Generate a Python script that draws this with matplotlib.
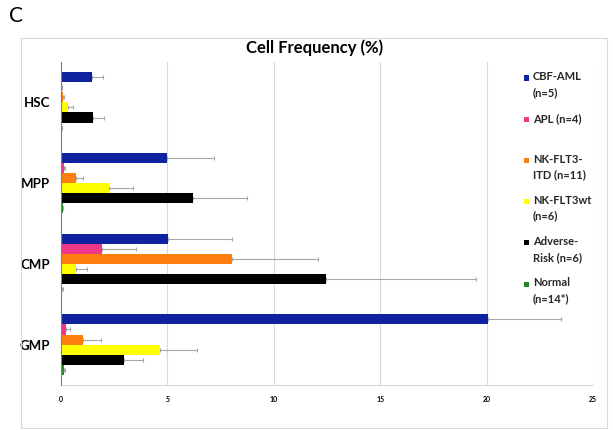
import matplotlib
matplotlib.use("Agg")
import matplotlib.pyplot as plt
import numpy as np
from matplotlib.patches import Rectangle

plt.rcParams['font.family'] = ['Lato', 'DejaVu Sans']

categories = ["HSC", "MPP", "CMP", "GMP"]
series_names = ["CBF-AML\n(n=5)", "APL (n=4)", "NK-FLT3-\nITD (n=11)",
                "NK-FLT3wt\n(n=6)", "Adverse-\nRisk (n=6)", "Normal\n(n=14*)"]
colors = ["#0F23A0", "#F0388A", "#FF7F0E", "#FFFF00", "#000000", "#218B21"]

cbf_aml = [1.47, 4.98, 5.05, 20.05]
cbf_aml_err = [0.5, 2.22, 3.0, 3.45]
apl = [0.03, 0.12, 1.92, 0.25]
apl_err = [0.0, 0.05, 1.6, 0.15]
nk_itd = [0.08, 0.72, 8.05, 1.02]
nk_itd_err = [0.05, 0.3, 4.05, 0.85]
nk_wt = [0.35, 2.24, 0.72, 4.65]
nk_wt_err = [0.2, 1.12, 0.5, 1.75]
adverse = [1.5, 6.2, 12.45, 2.95]
adverse_err = [0.5, 2.55, 7.05, 0.9]
normal = [0.03, 0.08, 0.06, 0.15]
normal_err = [0.01, 0.03, 0.02, 0.03]

values = [cbf_aml, apl, nk_itd, nk_wt, adverse, normal]
errors = [cbf_aml_err, apl_err, nk_itd_err, nk_wt_err, adverse_err, normal_err]
xticks = [0, 5, 10, 15, 20, 25]

W, H = 613, 430
fig = plt.figure(figsize=(W / 100, H / 100), dpi=100)

# outer frame
fig.patches.append(Rectangle((21 / W, 1 - 428 / H), (607 - 21) / W, (428 - 38) / H,
                             transform=fig.transFigure, fill=False,
                             edgecolor="#d9d9d9", linewidth=0.8))

ax = fig.add_axes([61 / W, 1 - 385 / H, (593 - 61) / W, (385 - 62) / H])

n = len(values)
bh = 0.125
y = np.arange(len(categories))
for i, (vals, errs, c) in enumerate(zip(values, errors, colors)):
    pos = y - (n / 2 - 0.5) * bh + i * bh
    ax.barh(pos, vals, height=bh, color=c, edgecolor='none', zorder=3)
    ax.errorbar(vals, pos, xerr=[np.zeros(len(errs)), errs], fmt='none',
                ecolor="#a6a6a6", elinewidth=0.8, capsize=1.5, capthick=0.8, zorder=2)

ax.set_ylim(len(categories) - 0.5, -0.5)
ax.set_xlim(0, 25)
ax.set_xticks(xticks)
ax.set_xticklabels([str(t) for t in xticks], fontsize=5, fontweight='bold')
ax.set_yticks(y)
ax.set_yticklabels(categories, fontsize=9.5, fontweight='bold')
ax.tick_params(axis='both', length=0)
ax.tick_params(axis='x', pad=8)
ax.tick_params(axis='y', pad=8)
ax.grid(axis='x', color="#d9d9d9", linewidth=0.8, zorder=0)
for s in ['top', 'right']:
    ax.spines[s].set_visible(False)
ax.spines['left'].set_color("#7f7f7f")
ax.spines['left'].set_linewidth(0.8)
ax.spines['bottom'].set_color("#d9d9d9")
ax.spines['bottom'].set_linewidth(0.8)
ax.spines['left'].set_zorder(4)

fig.text(315 / W, 1 - 48 / H, "Cell Frequency (%)", ha='center', va='center',
         fontsize=12, fontweight='bold')
fig.text(9 / W, 1 - 16 / H, "C", ha='left', va='center', fontsize=15)

# legend
for i, (name, c) in enumerate(zip(series_names, colors)):
    ytop = 78 + i * 41.2
    fig.patches.append(Rectangle((524 / W, 1 - (ytop + 2.5) / H), 5 / W, 5 / H,
                                 transform=fig.transFigure, facecolor=c,
                                 edgecolor='none'))
    fig.text(533 / W, 1 - (ytop - 6.5) / H, name, ha='left', va='top',
             fontsize=8, fontweight='bold', linespacing=1.5, color="#262626")

fig.savefig("out.png", dpi=100)
